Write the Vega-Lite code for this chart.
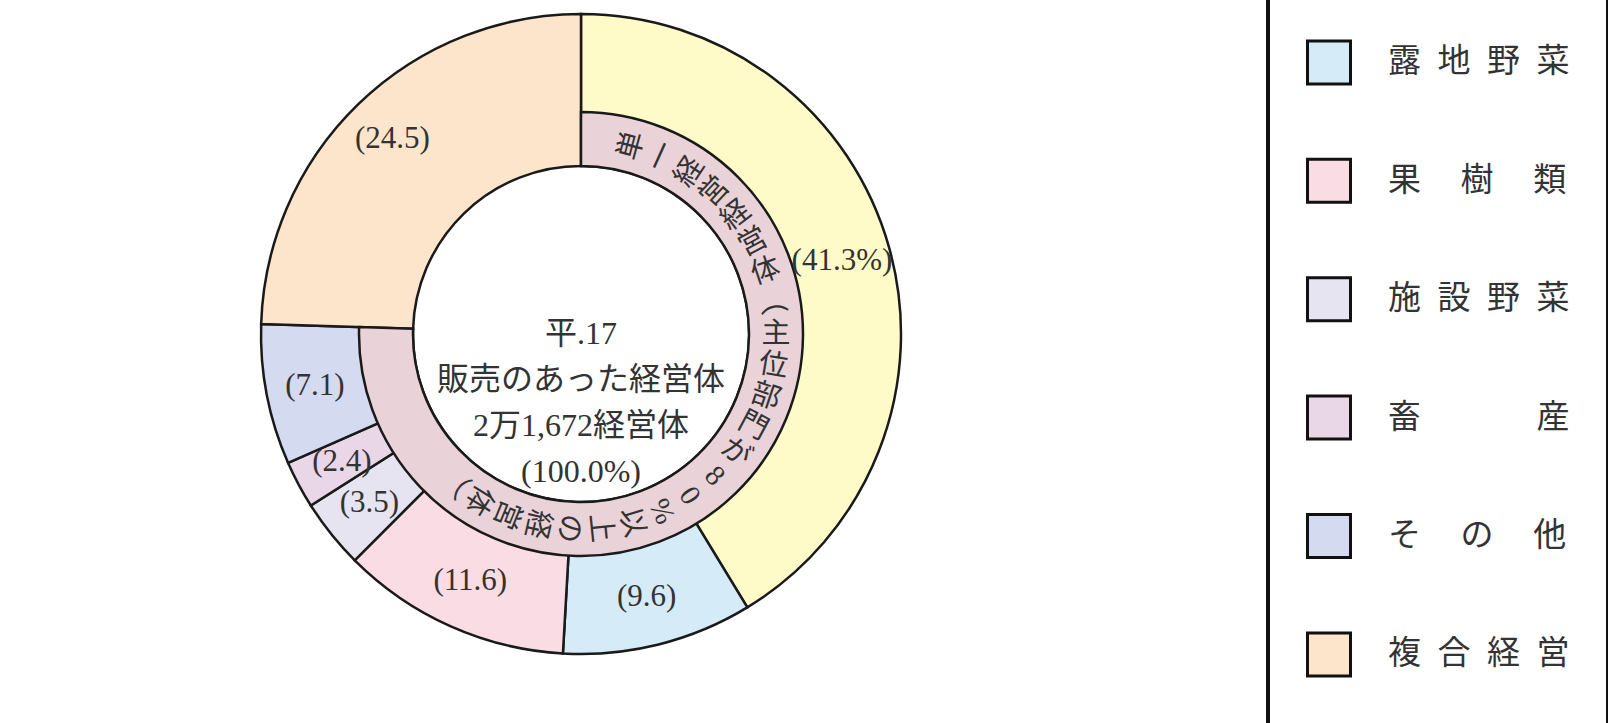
{
  "$schema": "https://vega.github.io/schema/vega-lite/v6.json",
  "width": 1162,
  "height": 668,
  "autosize": {"type": "none"},
  "padding": {"left": 0, "top": 0, "right": 446, "bottom": 55},
  "background": "white",
  "config": {"view": {"stroke": null}, "legend": {"strokeWidth": 4}},
  "datasets": {
    "outer": [
      {"category": "稲作", "value": 41.3, "label": "(41.3%)", "order": 1},
      {"category": "露地野菜", "value": 9.6, "label": "(9.6)", "order": 2},
      {"category": "果樹類", "value": 11.6, "label": "(11.6)", "order": 3},
      {"category": "施設野菜", "value": 3.5, "label": "(3.5)", "order": 4},
      {"category": "畜産", "value": 2.4, "label": "(2.4)", "order": 5},
      {"category": "その他", "value": 7.1, "label": "(7.1)", "order": 6},
      {"category": "複合経営", "value": 24.5, "label": "(24.5)", "order": 7}
    ],
    "inner": [
      {"group": "単一経営経営体", "value": 75.5}
    ],
    "ringText": [
      {"ch": "単", "pos": 0}, {"ch": "一", "pos": 1}, {"ch": "経", "pos": 2}, {"ch": "営", "pos": 3},
      {"ch": "経", "pos": 4}, {"ch": "営", "pos": 5}, {"ch": "体", "pos": 6}, {"ch": "︵", "pos": 7},
      {"ch": "主", "pos": 8}, {"ch": "位", "pos": 9}, {"ch": "部", "pos": 10}, {"ch": "門", "pos": 11},
      {"ch": "が", "pos": 12}, {"ch": "8", "pos": 13}, {"ch": "0", "pos": 14}, {"ch": "%", "pos": 15},
      {"ch": "以", "pos": 16}, {"ch": "上", "pos": 17}, {"ch": "の", "pos": 18}, {"ch": "経", "pos": 19},
      {"ch": "営", "pos": 20}, {"ch": "体", "pos": 21}, {"ch": "︶", "pos": 22}
    ],
    "center": [
      {"lines": ["平.17", "販売のあった経営体", "2万1,672経営体", "(100.0%)"]}
    ]
  },
  "resolve": {"scale": {"theta": "independent"}},
  "layer": [
    {
      "data": {"name": "outer"},
      "mark": {"type": "arc", "outerRadius": 320, "innerRadius": 168, "stroke": "#1a1a1a", "strokeWidth": 2.5},
      "encoding": {
        "theta": {"field": "value", "type": "quantitative", "stack": true, "scale": {"domain": [0, 100]}},
        "order": {"field": "order", "type": "quantitative"},
        "color": {
          "field": "category",
          "type": "nominal",
          "scale": {
            "domain": ["稲作", "露地野菜", "果樹類", "施設野菜", "畜産", "その他", "複合経営"],
            "range": ["#FFFBC9", "#D5EBF8", "#FADCE4", "#E5E4F0", "#E9D6E7", "#D4DAEF", "#FDE5CB"]
          },
          "legend": {
            "orient": "none",
            "legendX": 1268,
            "legendY": -117,
            "direction": "vertical",
            "title": "　",
            "titleOrient": "bottom",
            "titleFontSize": 30,
            "titlePadding": 10,
            "symbolType": "square",
            "symbolSize": 1849,
            "symbolStrokeColor": "#111111",
            "symbolStrokeWidth": 3,
            "symbolOpacity": 1,
            "labelFont": "Noto Sans CJK JP",
            "labelFontSize": 33,
            "labelColor": "#333333",
            "labelOffset": 36,
            "labelLimit": 400,
            "rowPadding": 62.4,
            "padding": 38,
            "strokeColor": "#111111",
            "labelExpr": "datum.label == '稲作' ? '' : datum.label == '露地野菜' ? '露\u2002地\u2002野\u2002菜' : datum.label == '果樹類' ? '果\u3000\u2009樹\u3000\u2009類' : datum.label == '施設野菜' ? '施\u2002設\u2002野\u2002菜' : datum.label == '畜産' ? '畜\u3000\u3000\u3000\u2002産' : datum.label == 'その他' ? 'そ\u3000\u2009の\u3000\u2009他' : datum.label == '複合経営' ? '複\u2002合\u2002経\u2002営' : datum.label"
          }
        }
      }
    },
    {
      "data": {"name": "inner"},
      "mark": {"type": "arc", "outerRadius": 222, "innerRadius": 168, "fill": "#E9D2D8", "stroke": "#1a1a1a", "strokeWidth": 2.5},
      "encoding": {
        "theta": {"field": "value", "type": "quantitative", "stack": true, "scale": {"domain": [0, 100]}}
      }
    },
    {
      "data": {"name": "outer"},
      "mark": {"type": "text", "radius": 271, "font": "Liberation Serif, Noto Sans CJK JP", "fontSize": 31, "fill": "#333333", "align": "center", "baseline": "middle"},
      "encoding": {
        "theta": {"field": "value", "type": "quantitative", "stack": true, "scale": {"domain": [0, 100]}},
        "order": {"field": "order", "type": "quantitative"},
        "text": {"field": "label", "type": "nominal"}
      }
    },
    {
      "data": {"name": "ringText"},
      "mark": {"type": "text", "radius": 195, "font": "Liberation Serif, Noto Sans CJK JP", "fontSize": 29, "fill": "#333333", "align": "center", "baseline": "middle"},
      "encoding": {
        "theta": {"field": "pos", "type": "quantitative", "stack": null, "scale": {"domain": [0, 22], "range": [0.2618, 3.8572]}},
        "angle": {"field": "pos", "type": "quantitative", "scale": {"domain": [0, 22], "range": [-75, 131]}, "legend": null},
        "text": {"field": "ch", "type": "nominal"}
      }
    },
    {
      "data": {"name": "center"},
      "mark": {"type": "text", "font": "Liberation Serif, Noto Sans CJK JP", "fontSize": 32, "lineHeight": 46, "fill": "#333333", "align": "center", "baseline": "middle"},
      "encoding": {
        "text": {"field": "lines", "type": "nominal"}
      }
    }
  ]
}
